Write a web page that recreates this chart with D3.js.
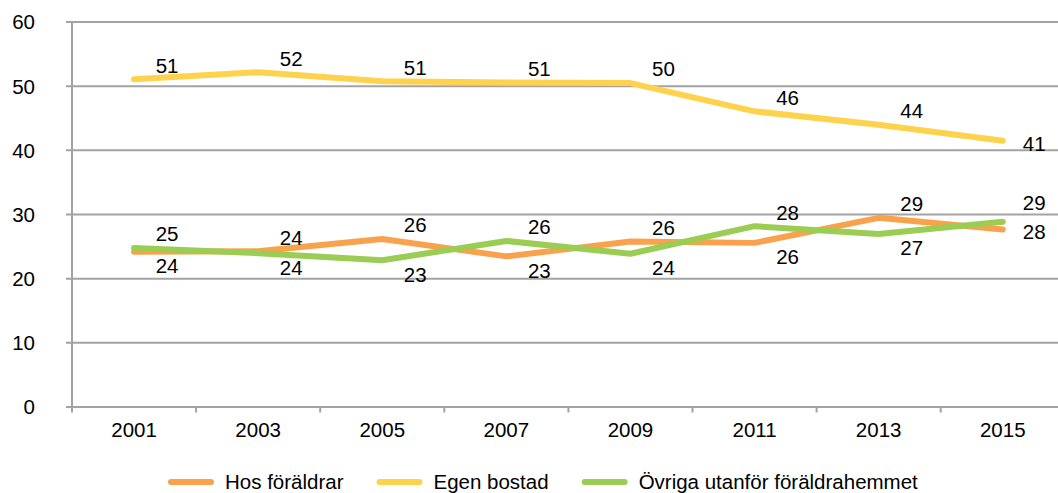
<!DOCTYPE html>
<html lang="sv">
<head>
<meta charset="utf-8">
<script src="https://cdnjs.cloudflare.com/ajax/libs/d3/7.8.5/d3.min.js"></script>
<style>
  body { margin: 0; padding: 0; background: #fff; }
  svg text { font-family: "Liberation Sans", Arial, sans-serif; font-size: 20.5px; fill: #000; }
  .grid line { stroke: #a3a3a3; stroke-width: 2px; }
  .grid path { display: none; }
  .xaxis path, .xaxis line { display: none; }
  .series { fill: none; stroke-width: 6px; stroke-linecap: round; stroke-linejoin: round; }
</style>
</head>
<body>
<svg id="chart" width="1058" height="493"></svg>
<script>
// data
var years = ["2001", "2003", "2005", "2007", "2009", "2011", "2013", "2015"];
var hosForaldrar = [24.1, 24.2, 26.1, 23.4, 25.7, 25.5, 29.4, 27.6];
var egenBostad = [51.0, 52.1, 50.7, 50.5, 50.4, 46.0, 43.9, 41.4];
var ovriga = [24.7, 23.9, 22.8, 25.8, 23.8, 28.1, 26.9, 28.8];
var seriesNames = ["Hos föräldrar", "Egen bostad", "Övriga utanför föräldrahemmet"];
var seriesColors = ["#f9a24d", "#ffd24d", "#9bcd55"];
var yTicks = [0, 10, 20, 30, 40, 50, 60];

var series = [
  { name: seriesNames[0], color: seriesColors[0], values: hosForaldrar },
  { name: seriesNames[1], color: seriesColors[1], values: egenBostad },
  { name: seriesNames[2], color: seriesColors[2], values: ovriga }
];

var svg = d3.select("#chart");

var left = 72, bandW = 124.1;
var x = d3.scaleBand().domain(years).range([left, left + bandW * years.length]);
var y = d3.scaleLinear().domain([0, 60]).range([406.5, 21.5]);

// gridlines + y labels
svg.append("g")
  .attr("class", "grid")
  .attr("transform", "translate(66,0)")
  .call(d3.axisLeft(y).tickValues(yTicks).tickSize(-(1058 - 66)).tickPadding(31))
  .selectAll("text").attr("dy", "0.36em");

// y axis line
svg.append("line")
  .attr("x1", left).attr("x2", left)
  .attr("y1", y(60)).attr("y2", y(0) + 6)
  .attr("stroke", "#a3a3a3").attr("stroke-width", 2);

// x tick marks at category boundaries
svg.append("g").selectAll("line")
  .data(years.slice(1))
  .join("line")
  .attr("x1", function (d) { return x(d); })
  .attr("x2", function (d) { return x(d); })
  .attr("y1", y(0)).attr("y2", y(0) + 6)
  .attr("stroke", "#a3a3a3").attr("stroke-width", 2);

// x labels
svg.append("g")
  .attr("class", "xaxis")
  .attr("transform", "translate(0," + y(0) + ")")
  .call(d3.axisBottom(x).tickSize(0).tickPadding(16));

var cx = function (i) { return x(years[i]) + x.bandwidth() / 2; };

var line = d3.line()
  .x(function (d, i) { return cx(i); })
  .y(function (d) { return y(d); });

svg.append("g").selectAll("path")
  .data(series)
  .join("path")
  .attr("class", "series")
  .attr("stroke", function (d) { return d.color; })
  .attr("d", function (d) { return line(d.values); });

// data labels: higher of the two low series goes above, the lower below, last point on the right
var labels = svg.append("g");
series.forEach(function (s, si) {
  s.values.forEach(function (v, i) {
    var lx, ly, anchor = "middle";
    var last = i === years.length - 1;
    var pos = "above";
    if (si === 0) pos = v < ovriga[i] ? "below" : "above";
    if (si === 2) pos = v < hosForaldrar[i] ? "below" : "above";
    if (last) {
      lx = cx(i) + 20;
      anchor = "start";
      ly = y(v) + (si === 1 ? 3 : (pos === "above" ? -19 : 2));
    } else {
      lx = cx(i) + 33;
      ly = y(v) + (pos === "above" ? -14 : 14);
    }
    labels.append("text")
      .attr("x", lx).attr("y", ly)
      .attr("dy", "0.36em")
      .attr("text-anchor", anchor)
      .text(Math.round(v));
  });
});

// legend
var legend = svg.append("g").attr("transform", "translate(166,482)");
var lx = 0;
series.forEach(function (s) {
  var g = legend.append("g").attr("transform", "translate(" + lx + ",0)");
  g.append("line")
    .attr("x1", 5).attr("x2", 45)
    .attr("y1", 0).attr("y2", 0)
    .attr("stroke", s.color).attr("stroke-width", 6)
    .attr("stroke-linecap", "round");
  var t = g.append("text").attr("x", 59).attr("y", 0).attr("dy", "0.36em").text(s.name);
  lx += 59 + t.node().getComputedTextLength() + 31;
});
</script>
</body>
</html>
